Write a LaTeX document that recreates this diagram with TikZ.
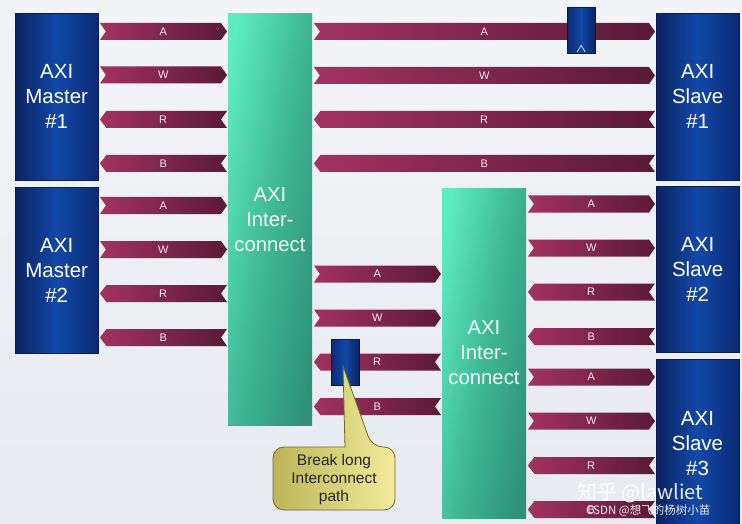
\documentclass[tikz,border=0pt]{standalone}
\usepackage{fontspec}
\setmainfont{Liberation Sans}
\newfontfamily\cjk{Noto Sans CJK SC}
\usetikzlibrary{calc}
\definecolor{bgtop}{HTML}{F3F4F7}
\definecolor{bgbot}{HTML}{E7EAEF}
\definecolor{navyA}{HTML}{0A2462}
\definecolor{navyB}{HTML}{1248A8}
\definecolor{navyC}{HTML}{0A2A72}
\definecolor{mintA}{HTML}{5EEBC0}
\definecolor{mintB}{HTML}{2E9276}
\definecolor{mintC}{HTML}{3FB893}
\definecolor{arrA}{HTML}{A3325F}
\definecolor{arrB}{HTML}{5A1A36}
\definecolor{callA}{HTML}{BDB557}
\definecolor{callB}{HTML}{F2EC9C}
\definecolor{callEdge}{HTML}{6E6A2E}
\tikzset{
  bluebox/.style={anchor=north west, inner sep=0pt, draw=navyA!80!black, line width=0.4pt,
    left color=navyA, right color=navyC, middle color=navyB,
    text=white, font=\fontsize{20.5}{25}\selectfont, align=center},
  greenbox/.style={anchor=north west, inner sep=0pt,
    left color=mintA, right color=mintB, middle color=mintC, shading angle=80,
    text=white!92!mintA, font=\fontsize{20.3}{25}\selectfont, align=center},
  regbox/.style={anchor=north west, inner sep=0pt, draw=navyA!70!black, line width=0.4pt,
    left color=navyC, right color=navyA, middle color=navyB},
  sigarrow/.style={left color=arrA, right color=arrB},
  arrowlabel/.style={text=white!90!arrA, font=\fontsize{11}{12}\selectfont, inner sep=0pt},
  callout/.style={draw=callEdge, line width=0.8pt, left color=callA, right color=callB},
  calltext/.style={font=\fontsize{15.5}{18}\selectfont, align=center, text=black!85},
  wmark/.style={text=white, opacity=0.9, inner sep=0pt}
}
% forward arrow: from node #1 (east) to node #2 (west) at pixel row #3, label #4
\newcommand{\fwdarrow}[4]{%
  \path[sigarrow] let \p1=(#1.east), \p2=(#2.west) in
    (\x1+1.5pt,-#3pt+8.5pt) -- (\x2-7pt,-#3pt+8.5pt) -- (\x2-1pt,-#3pt)
    -- (\x2-7pt,-#3pt-8.5pt) -- (\x1+1.5pt,-#3pt-8.5pt) -- (\x1+7.5pt,-#3pt) -- cycle;
  \path let \p1=(#1.east), \p2=(#2.west) in
    node[arrowlabel] (l#1#2#3) at ({(\x1+\x2)/2},-#3pt) {#4};}
% backward arrow: drawn between node #1 (east) and node #2 (west), pointing left
\newcommand{\bwdarrow}[4]{%
  \path[sigarrow] let \p1=(#1.east), \p2=(#2.west) in
    (\x1+1.5pt,-#3pt) -- (\x1+8pt,-#3pt+8.5pt) -- (\x2-1pt,-#3pt+8.5pt) -- (\x2-7pt,-#3pt)
    -- (\x2-1pt,-#3pt-8.5pt) -- (\x1+8pt,-#3pt-8.5pt) -- cycle;
  \path let \p1=(#1.east), \p2=(#2.west) in
    node[arrowlabel] (l#1#2#3) at ({(\x1+\x2)/2},-#3pt) {#4};}
\begin{document}
\begin{tikzpicture}[x=1pt,y=-1pt]
\useasboundingbox (0,0) rectangle (742,524);
\shade[top color=bgtop, bottom color=bgbot] (0,0) rectangle (742,524);

% blocks
\node[bluebox, minimum width=83, minimum height=167] (m1) at (15,13) {AXI\\Master\\\#1};
\node[bluebox, minimum width=83, minimum height=166] (m2) at (15,187) {AXI\\Master\\\#2};
\node[greenbox, minimum width=84, minimum height=412] (ic1) at (228,13) {};
\node[greenbox, minimum width=84, minimum height=330] (ic2) at (442,188) {};
\node[bluebox, minimum width=83, minimum height=167] (s1) at (656,13) {AXI\\Slave\\\#1};
\node[bluebox, minimum width=83, minimum height=166] (s2) at (656,186) {AXI\\Slave\\\#2};
\node[bluebox, minimum width=83, minimum height=165, text depth=0pt] (s3) at (656,359) {};
\node[text=white, font=\fontsize{20.5}{25}\selectfont, align=center] (s3t) at (697.5,444) {AXI\\Slave\\\#3};
\node[text=white!92!mintA, font=\fontsize{20.3}{25}\selectfont, align=center] (ic1t) at (270,220) {AXI\\Inter-\\connect};
\node[text=white!92!mintA, font=\fontsize{20.3}{25}\selectfont, align=center] (ic2t) at (484,353) {AXI\\Inter-\\connect};

% master 1 <-> interconnect 1
\fwdarrow{m1}{ic1}{31.5}{A}
\fwdarrow{m1}{ic1}{75}{W}
\bwdarrow{m1}{ic1}{119.5}{R}
\bwdarrow{m1}{ic1}{163.5}{B}
% master 2 <-> interconnect 1
\fwdarrow{m2}{ic1}{205.5}{A}
\fwdarrow{m2}{ic1}{249.5}{W}
\bwdarrow{m2}{ic1}{293.5}{R}
\bwdarrow{m2}{ic1}{337.5}{B}
% interconnect 1 <-> slave 1
\fwdarrow{ic1}{s1}{31.5}{A}
\fwdarrow{ic1}{s1}{75.5}{W}
\bwdarrow{ic1}{s1}{119.5}{R}
\bwdarrow{ic1}{s1}{163.5}{B}
% interconnect 1 <-> interconnect 2
\fwdarrow{ic1}{ic2}{274}{A}
\fwdarrow{ic1}{ic2}{318}{W}
\bwdarrow{ic1}{ic2}{362}{R}
\bwdarrow{ic1}{ic2}{406.5}{B}
% interconnect 2 <-> slave 2
\fwdarrow{ic2}{s2}{204}{A}
\fwdarrow{ic2}{s2}{248}{W}
\bwdarrow{ic2}{s2}{292}{R}
\bwdarrow{ic2}{s2}{336.5}{B}
% interconnect 2 <-> slave 3
\fwdarrow{ic2}{s3}{377}{A}
\fwdarrow{ic2}{s3}{421}{W}
\bwdarrow{ic2}{s3}{465.5}{R}
\bwdarrow{ic2}{s3}{509.5}{B}

% register slices
\node[regbox, minimum width=28, minimum height=46] (reg1) at (567,7) {};
\draw[white, line width=0.6pt] ($(reg1.south)+(-4,-1.5)$) -- ($(reg1.south)+(0,-8)$) -- ($(reg1.south)+(4,-1.5)$);
\node[regbox, minimum width=28, minimum height=46] (reg2) at (331,339) {};

% callout
\coordinate (tip) at (343,366);
\path[callout, rounded corners=11] (345,447) -- (273,447) -- (273,510) -- (395,510) -- (395,447) -- (372,447) [sharp corners] -- (tip) -- cycle;
\node[calltext] (calltxt) at (334,479) {Break long\\Interconnect\\path};

% watermark
\node[wmark, font=\cjk\fontsize{20}{20}\selectfont, anchor=west] (wm1) at (577,493) {知乎 @lawliet};
\node[wmark, font=\cjk\fontsize{11.5}{12}\selectfont, anchor=west] (wm2) at (586,511) {CSDN @想飞的杨树小苗};
\end{tikzpicture}
\end{document}
